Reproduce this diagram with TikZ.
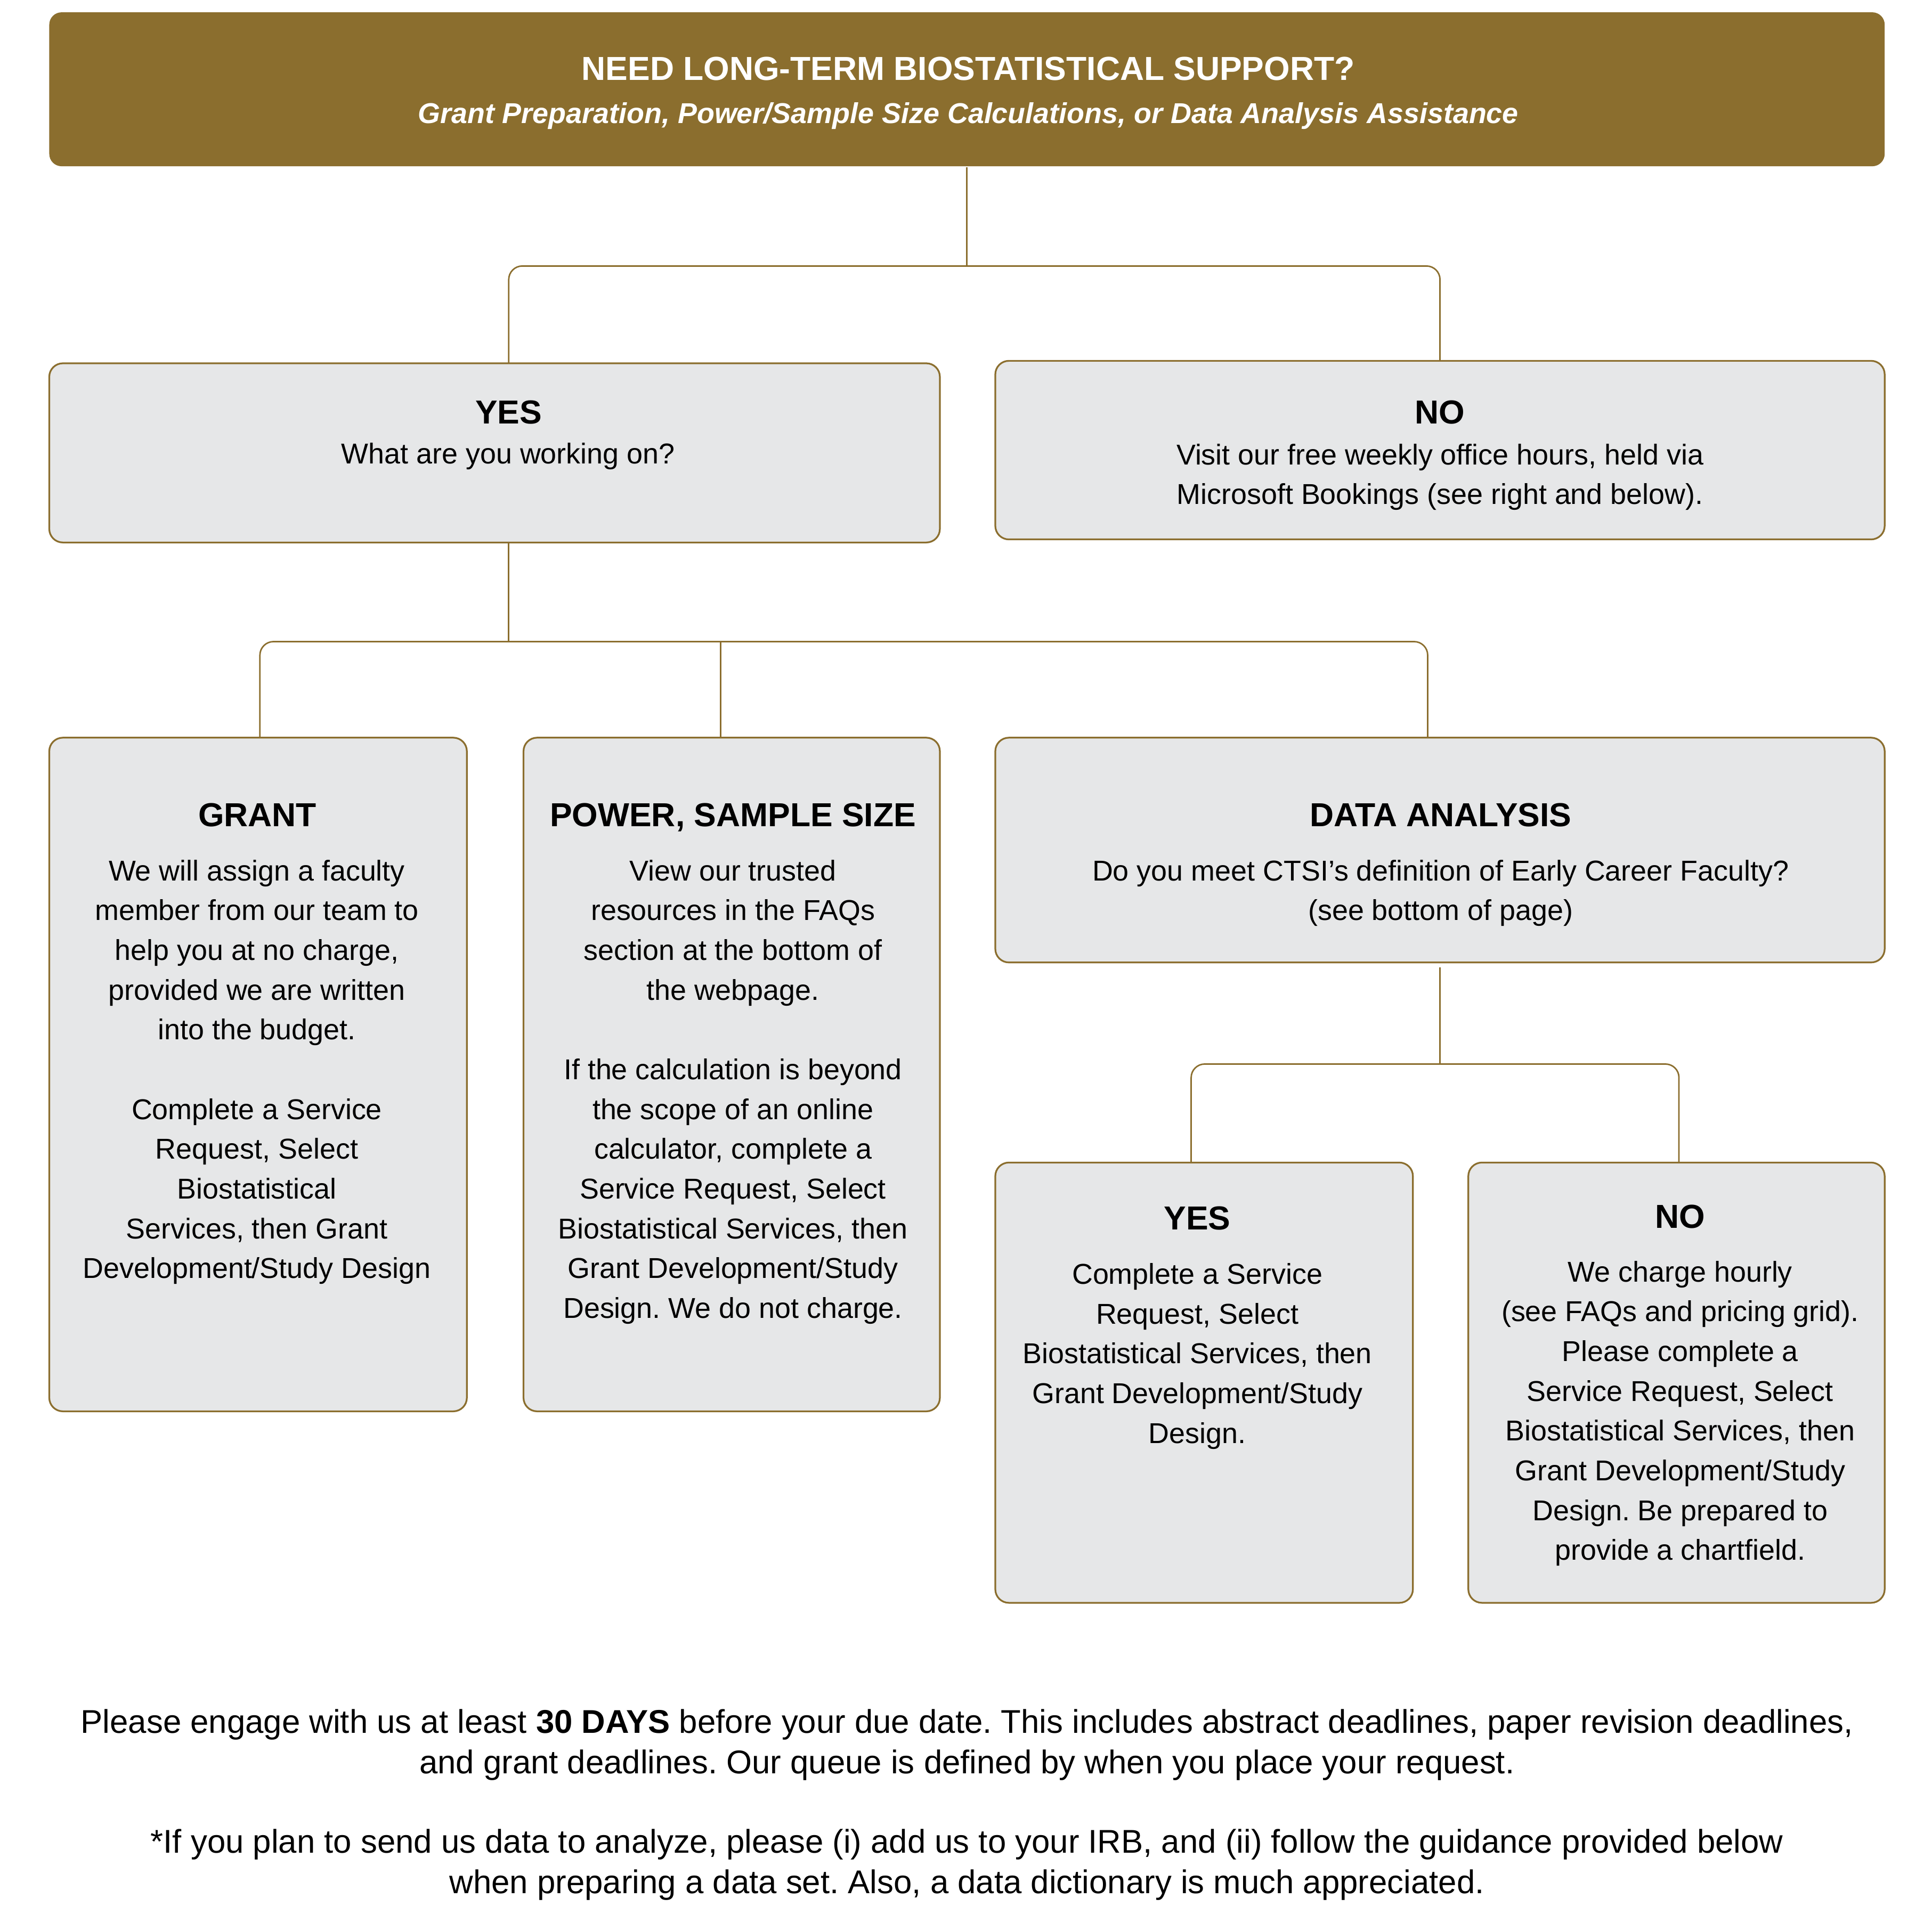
\documentclass[tikz,border=0pt]{standalone}
\usepackage{fontspec}
\setmainfont{Liberation Sans}
\frenchspacing
\definecolor{gold}{RGB}{139,110,46}
\definecolor{boxgray}{RGB}{230,231,232}
\tikzset{
  box/.style={draw=gold, line width=1.4pt, fill=boxgray, rounded corners=11pt, inner sep=0pt, outer sep=0pt},
  bannerbox/.style={fill=gold, rounded corners=10pt, inner sep=0pt, outer sep=0pt},
  conn/.style={draw=gold, line width=1.2pt, rounded corners=11pt},
  ttl/.style={font=\bfseries\fontsize{27}{32}\selectfont, anchor=base, inner sep=0pt},
  bodytext/.style={font=\fontsize{23.3}{32.3}\selectfont, align=center, anchor=north, inner sep=0pt},
  foottext/.style={font=\fontsize{26.7}{33.1}\selectfont, align=center, anchor=north, inner sep=0pt},
}
\begin{document}
\begin{tikzpicture}[x=1pt,y=-1pt]
\useasboundingbox (0,0) rectangle (1568,1568);
\fill[white] (0,0) rectangle (1568,1568);

% banner
\node[bannerbox, minimum width=1490pt, minimum height=125pt] (top) at (785,72.5) {};
\node[ttl, text=white] (toptitle) at (786,65) {NEED LONG-TERM BIOSTATISTICAL SUPPORT?};
\node[anchor=base, inner sep=0pt, text=white, font=\bfseries\itshape\fontsize{23.3}{28}\selectfont] (topsub) at (786,100)
  {Grant Preparation, Power/Sample Size Calculations, or Data Analysis Assistance};

% boxes
\node[box, minimum width=723pt, minimum height=145.5pt] (yes) at (401.5,367.75) {};
\node[box, minimum width=722pt, minimum height=145pt] (no) at (1169,365.5) {};
\node[box, minimum width=339pt, minimum height=547pt] (grant) at (209.5,872.5) {};
\node[box, minimum width=338pt, minimum height=547pt] (power) at (594,872.5) {};
\node[box, minimum width=722pt, minimum height=182.5pt] (data) at (1169,690.25) {};
\node[box, minimum width=339pt, minimum height=357.5pt] (yes2) at (977.5,1122.75) {};
\node[box, minimum width=338pt, minimum height=357.5pt] (no2) at (1361,1122.75) {};

% texts
\node[ttl] (yesT) at (413,344) {YES};
\node[bodytext] (yesB) at (412.5,353.9) {\strut What are you working on?};

\node[ttl] (noT) at (1169,344) {NO};
\node[bodytext] (noB) at (1169,354.4) {\strut Visit our free weekly office hours, held via\\Microsoft Bookings (see right and below).};

\node[ttl] (grantT) at (209,671) {GRANT};
\node[bodytext] (grantB) at (208.5,692.2) {\strut We will assign a faculty\\member from our team to\\help you at no charge,\\provided we are written\\into the budget.\\[32.3pt]Complete a Service\\Request, Select\\Biostatistical\\Services, then Grant\\Development/Study Design};

\node[ttl] (powerT) at (595,671) {POWER, SAMPLE SIZE};
\node[bodytext] (powerB) at (595,692.2) {\strut View our trusted\\resources in the FAQs\\section at the bottom of\\the webpage.\\[32.3pt]If the calculation is beyond\\the scope of an online\\calculator, complete a\\Service Request, Select\\Biostatistical Services, then\\Grant Development/Study\\Design. We do not charge.};

\node[ttl] (dataT) at (1169.5,671) {DATA ANALYSIS};
\node[bodytext] (dataB) at (1169.5,692.2) {\strut Do you meet CTSI’s definition of Early Career Faculty?\\(see bottom of page)};

\node[ttl] (yes2T) at (972,998.5) {YES};
\node[bodytext] (yes2B) at (972,1019.9) {\strut Complete a Service\\Request, Select\\Biostatistical Services, then\\Grant Development/Study\\Design.};

\node[ttl] (no2T) at (1364,997.3) {NO};
\node[bodytext] (no2B) at (1364,1017.9) {\strut We charge hourly\\(see FAQs and pricing grid).\\Please complete a\\Service Request, Select\\Biostatistical Services, then\\Grant Development/Study\\Design. Be prepared to\\provide a chartfield.};

\node[foottext] (foot) at (785,1383.9) {\strut Please engage with us at least \textbf{30 DAYS} before your due date. This includes abstract deadlines, paper revision deadlines,\\and grant deadlines. Our queue is defined by when you place your request.\\[31.1pt]*If you plan to send us data to analyze, please (i) add us to your IRB, and (ii) follow the guidance provided below\\when preparing a data set. Also, a data dictionary is much appreciated.};

% connectors
\coordinate (j1) at (785,216);
\draw[conn] ([yshift=-1pt]top.south) -- (j1);
\draw[conn] ([xshift=11.5pt]yes.north) |- (j1) -| (no.north);

\coordinate (j2) at (413,521);
\draw[conn] ([xshift=11.5pt]yes.south) -- (j2);
\draw[conn] ([xshift=1.5pt]grant.north) |- (j2) -| ([xshift=-10pt]data.north);
\coordinate (pw) at ([xshift=-9pt]power.north);
\draw[conn] (pw) -- (pw |- j2);

\coordinate (j3) at (1168,864);
\draw[conn] ([yshift=-4pt]data.south) -- (data.south |- j3);
\draw[conn] ([xshift=-10.5pt]yes2.north) |- (j3) -| ([xshift=2pt]no2.north);
\end{tikzpicture}
\end{document}
